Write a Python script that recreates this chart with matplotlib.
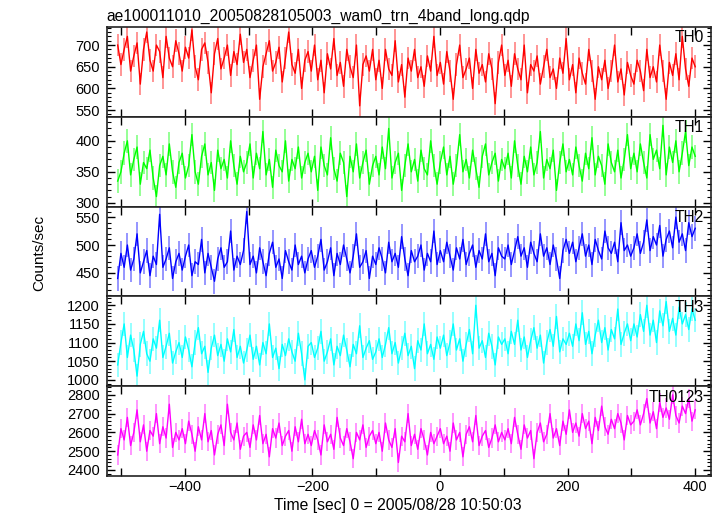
import numpy as np
import matplotlib
matplotlib.use("Agg")
import matplotlib.pyplot as plt
from matplotlib.ticker import MultipleLocator

plt.rcParams['font.family'] = ['Liberation Sans', 'DejaVu Sans']

# light curve, one value every ~5 s between these times
T_START = -505
T_STOP = 400

th0 = [700, 655, 690, 720, 640, 675, 705, 610, 690, 730, 665, 640, 700, 685, 625, 720, 670, 650, 710, 680,
       640, 695, 670, 735, 650, 620, 690, 705, 660, 590, 680, 715, 645, 670, 700, 630, 685, 655, 725, 660,
       690, 625, 665, 700, 575, 650, 680, 710, 640, 660, 695, 615, 670, 730, 655, 635, 690, 600, 665, 685,
       640, 700, 620, 665, 590, 680, 645, 715, 630, 660, 605, 690, 650, 625, 700, 560, 655, 675, 640, 690,
       620, 665, 600, 690, 645, 630, 710, 615, 655, 580, 670, 640, 690, 625, 650, 605, 675, 640, 720, 630,
       660, 610, 685, 640, 575, 655, 700, 625, 645, 670, 600, 690, 635, 655, 615, 680, 645, 565, 660, 700,
       630, 665, 605, 680, 645, 620, 700, 590, 655, 640, 675, 610, 650, 690, 625, 645, 600, 670, 635, 715,
       620, 655, 590, 670, 635, 610, 690, 640, 575, 650, 620, 665, 600, 640, 700, 615, 645, 585, 660, 630,
       610, 665, 640, 595, 690, 625, 650, 615, 700, 640, 575, 660, 630, 680, 620, 720, 645, 605, 670, 650]

th1 = [335, 350, 380, 400, 345, 370, 390, 330, 365, 355, 385, 340, 310, 360, 375, 345, 395, 350, 325, 365,
       380, 340, 360, 410, 350, 330, 375, 395, 345, 365, 320, 385, 355, 370, 340, 400, 360, 330, 375, 350,
       365, 395, 340, 380, 355, 415, 345, 370, 325, 385, 360, 350, 400, 335, 370, 355, 390, 340, 365, 380,
       350, 375, 320, 390, 360, 345, 405, 355, 335, 380, 365, 310, 375, 350, 395, 340, 365, 385, 330, 360,
       375, 345, 390, 355, 420, 340, 365, 380, 320, 360, 395, 350, 370, 335, 385, 355, 345, 400, 360, 330,
       365, 390, 345, 375, 330, 360, 410, 350, 370, 340, 385, 355, 325, 375, 395, 345, 365, 380, 335, 370,
       355, 380, 340, 400, 360, 330, 375, 350, 390, 345, 365, 415, 340, 370, 355, 385, 320, 365, 395, 350,
       370, 345, 390, 360, 335, 380, 355, 405, 345, 375, 360, 330, 395, 365, 350, 385, 340, 370, 410, 355,
       380, 350, 395, 365, 340, 410, 370, 385, 355, 425, 345, 390, 365, 400, 350, 380, 415, 360, 390, 375]

th2 = [440, 485, 460, 500, 455, 475, 520, 450, 470, 490, 445, 480, 465, 555, 460, 475, 495, 440, 470, 485,
       455, 480, 500, 445, 470, 465, 510, 450, 485, 460, 435, 475, 495, 460, 470, 525, 455, 480, 465, 490,
       560, 465, 480, 450, 495, 470, 445, 485, 505, 460, 475, 440, 490, 470, 455, 500, 465, 480, 450, 475,
       490, 460, 480, 510, 455, 470, 495, 445, 485, 465, 500, 475, 450, 480, 520, 460, 470, 490, 440, 480,
       465, 495, 475, 450, 505, 470, 485, 460, 515, 475, 445, 490, 470, 480, 500, 455, 485, 470, 525, 465,
       490, 470, 505, 480, 455, 495, 475, 510, 465, 485, 500, 460, 490, 475, 520, 470, 485, 445, 495, 480,
       475, 500, 465, 490, 515, 480, 495, 460, 505, 485, 470, 520, 480, 495, 465, 500, 475, 440, 490, 510,
       485, 505, 470, 495, 520, 480, 500, 465, 510, 490, 475, 525, 495, 485, 505, 470, 540, 490, 500, 480,
       495, 520, 485, 505, 545, 490, 515, 500, 535, 480, 510, 525, 495, 550, 505, 520, 490, 540, 515, 530]

th3 = [1040, 1100, 1150, 1060, 1120, 1080, 1010, 1095, 1130, 1070, 1050, 1110, 1085, 1160, 1060, 1090, 1125, 1045, 1075, 1100,
       1060, 1115, 1080, 1035, 1100, 1140, 1070, 1090, 1020, 1085, 1120, 1065, 1095, 1050, 1110, 1075, 1135, 1060, 1090, 1045,
       1080, 1120, 1055, 1090, 1040, 1100, 1070, 1150, 1060, 1085, 1030, 1095, 1065, 1110, 1075, 1050, 1125, 1070, 1000, 1090,
       1100, 1060, 1085, 1130, 1050, 1075, 1110, 1040, 1090, 1065, 1120, 1080, 1035, 1095, 1070, 1145, 1060, 1085, 1105, 1055,
       1075, 1110, 1060, 1095, 1140, 1070, 1100, 1045, 1085, 1125, 1065, 1090, 1030, 1105, 1080, 1150, 1070, 1095, 1055, 1115,
       1085, 1120, 1065, 1100, 1150, 1080, 1110, 1050, 1095, 1135, 1070, 1200, 1085, 1105, 1060, 1125, 1090, 1040, 1115, 1095,
       1110, 1070, 1130, 1095, 1160, 1080, 1115, 1060, 1105, 1140, 1085, 1120, 1045, 1100, 1135, 1090, 1170, 1075, 1110, 1095,
       1125, 1090, 1150, 1105, 1180, 1095, 1130, 1070, 1120, 1160, 1100, 1140, 1080, 1135, 1110, 1190, 1095, 1125, 1150, 1105,
       1150, 1115, 1175, 1130, 1200, 1120, 1160, 1100, 1185, 1145, 1210, 1130, 1165, 1120, 1195, 1150, 1175, 1135, 1190, 1160]

th0123 = [2480, 2620, 2560, 2680, 2530, 2600, 2720, 2550, 2640, 2500, 2610, 2580, 2700, 2540, 2630, 2570, 2750, 2520, 2600, 2560,
          2620, 2540, 2660, 2590, 2500, 2630, 2560, 2700, 2550, 2610, 2480, 2590, 2640, 2530, 2750, 2600, 2560, 2650, 2510, 2580,
          2600, 2520, 2640, 2560, 2690, 2540, 2590, 2470, 2620, 2570, 2650, 2530, 2580, 2610, 2500, 2630, 2550, 2670, 2540, 2590,
          2530, 2610, 2560, 2480, 2640, 2550, 2590, 2510, 2680, 2570, 2530, 2620, 2550, 2460, 2600, 2560, 2640, 2520, 2580, 2610,
          2540, 2600, 2500, 2650, 2560, 2520, 2620, 2440, 2580, 2550, 2700, 2530, 2590, 2510, 2620, 2560, 2480, 2600, 2540, 2580,
          2620, 2540, 2580, 2500, 2650, 2560, 2600, 2470, 2590, 2630, 2550, 2690, 2530, 2580, 2610, 2520, 2570, 2640, 2550, 2600,
          2560, 2620, 2540, 2680, 2590, 2510, 2640, 2570, 2610, 2460, 2600, 2650, 2550, 2590, 2700, 2570, 2620, 2530, 2660, 2590,
          2720, 2600, 2650, 2580, 2700, 2620, 2660, 2540, 2680, 2610, 2740, 2630, 2590, 2670, 2620, 2700, 2650, 2560, 2690, 2640,
          2660, 2720, 2640, 2700, 2780, 2650, 2710, 2620, 2760, 2680, 2730, 2670, 2800, 2690, 2650, 2740, 2700, 2780, 2660, 2720]

bands = ["TH0", "TH1", "TH2", "TH3", "TH0123"]
errors = [26, 19, 22, 33, 51]          # typical 1-sigma per bin
ylims = [(535, 742), (294, 439), (408, 569), (983, 1224), (2368, 2846)]
ymajor = [50, 50, 50, 50, 100]
yminor = [10, 10, 10, 10, 20]
colors = ["#ff0000", "#00ff00", "#0000ff", "#00ffff", "#ff00ff"]
series = [th0, th1, th2, th3, th0123]

fig, axes = plt.subplots(5, 1, sharex=True, figsize=(7.22, 5.16), dpi=100)
fig.subplots_adjust(left=0.148, right=0.985, top=0.948, bottom=0.0775, hspace=0)

for ax, y, name, err, lim, maj, mnr, c in zip(axes, series, bands, errors, ylims, ymajor, yminor, colors):
    y = np.array(y, dtype=float)
    t = np.linspace(T_START, T_STOP, len(y))
    ax.vlines(t, y - err, y + err, color=c, alpha=0.45, lw=1.3)
    ax.plot(t, y, color=c, lw=1.0)
    ax.set_ylim(*lim)
    ax.yaxis.set_major_locator(MultipleLocator(maj))
    ax.yaxis.set_minor_locator(MultipleLocator(mnr))
    ax.xaxis.set_major_locator(MultipleLocator(200))
    ax.xaxis.set_minor_locator(MultipleLocator(100))
    ax.tick_params(which='both', direction='in', top=True, right=True, labelsize=10.5)
    ax.tick_params(which='major', length=6, width=1)
    ax.tick_params(which='major', axis='y', pad=5)
    ax.tick_params(which='major', axis='x', pad=3)
    ax.tick_params(which='minor', axis='y', length=3, width=0.8)
    ax.tick_params(which='minor', axis='x', length=6, width=1)
    for s in ax.spines.values():
        s.set_linewidth(1.2)
        s.set_color('#222222')
    ax.text(0.988, 0.96, name, transform=ax.transAxes, ha='right', va='top', fontsize=11.2)

axes[-1].set_xlim(-522, 425)
axes[0].set_title("ae100011010_20050828105003_wam0_trn_4band_long.qdp", loc='left', fontsize=11.25, pad=4)
axes[-1].set_xlabel("Time [sec] 0 = 2005/08/28 10:50:03", fontsize=11.3)
axes[-1].xaxis.set_label_coords(0.482, -0.24)
fig.text(0.055, 0.51, "Counts/sec", rotation=90, ha='center', va='center', fontsize=11)

fig.savefig("out.png", dpi=100)
